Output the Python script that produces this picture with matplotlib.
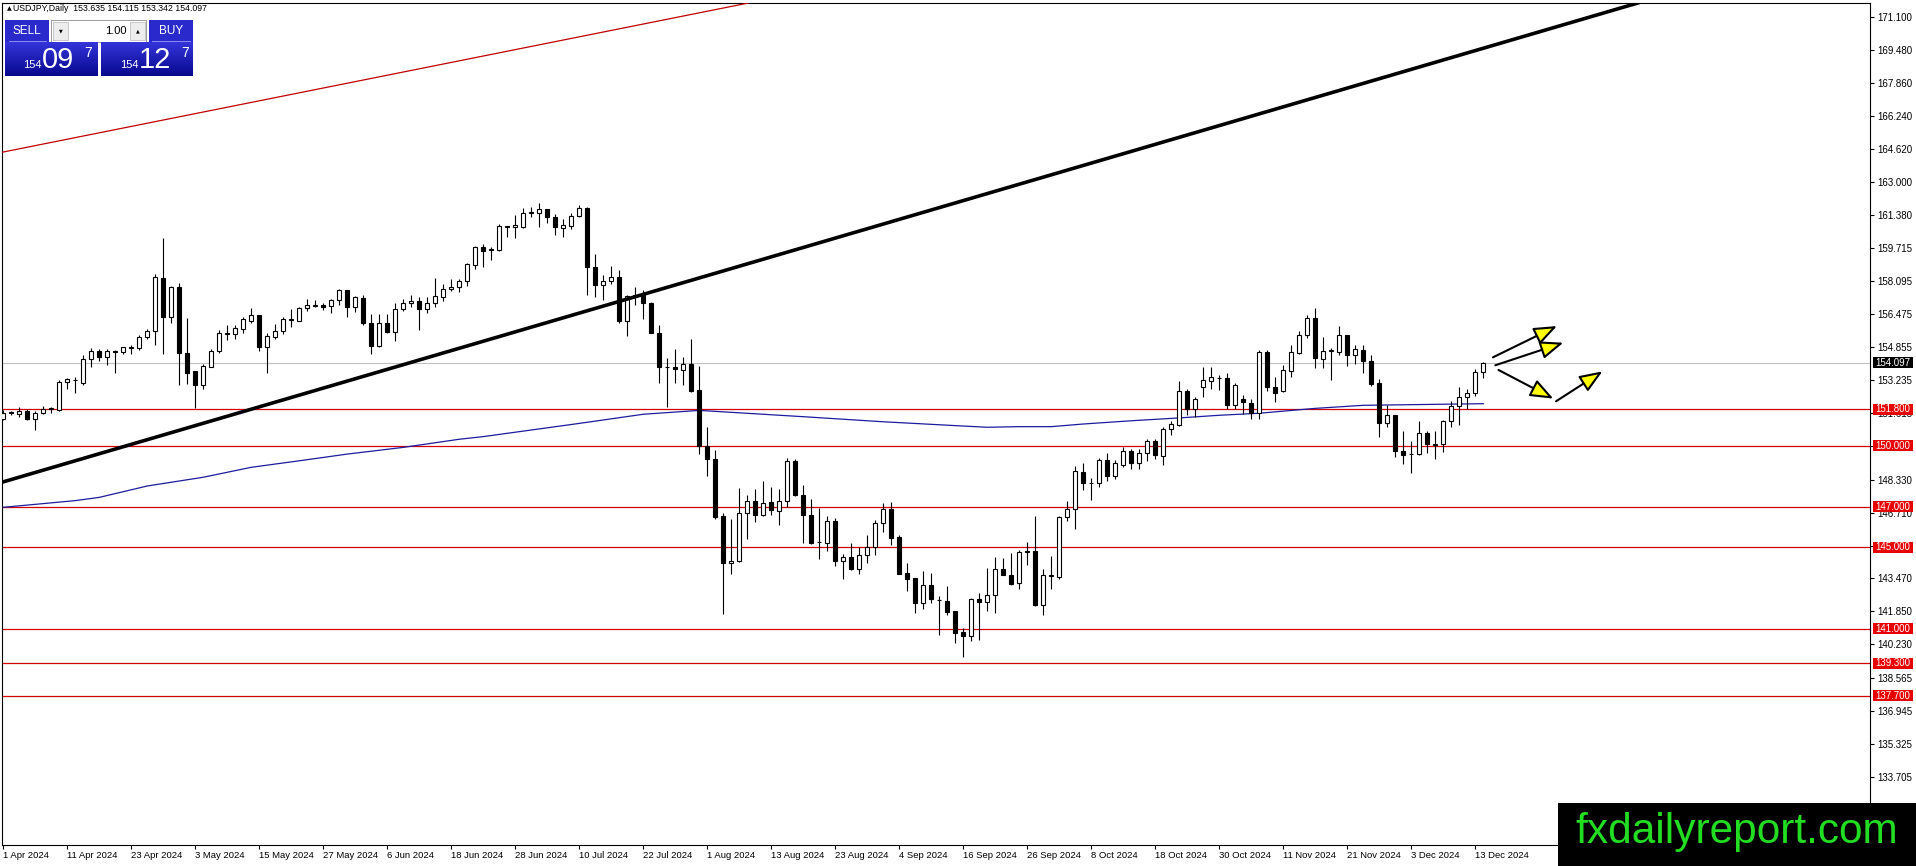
import matplotlib
matplotlib.use('Agg')
import matplotlib.pyplot as plt
import numpy as np
from matplotlib.patches import Rectangle, FancyArrowPatch
from matplotlib.colors import LinearSegmentedColormap
import matplotlib.transforms as mtransforms

plt.rcParams['font.family'] = ['Liberation Sans', 'DejaVu Sans']

W, H = 1916, 866

# ---------------- data ----------------
symbol = 'USDJPY,Daily'
header_ohlc = [153.635, 154.115, 153.342, 154.097]
bid_price = 154.097
ask_price = 154.127

opens = [151.30, 151.66, 151.58, 151.73, 151.33, 151.59, 151.80, 151.76, 153.14, 153.22,
         153.07, 154.25, 154.68, 154.35, 154.64, 154.61, 154.83, 154.81, 155.34, 155.63,
         158.24, 156.32, 157.80, 154.55, 153.66, 152.97, 153.89, 154.68, 155.50, 155.50,
         155.73, 156.15, 156.42, 154.84, 155.37, 155.63, 156.20, 156.16, 156.78, 156.90,
         156.94, 156.88, 157.17, 157.67, 156.81, 157.27, 156.02, 154.91, 156.06, 155.60,
         156.71, 157.01, 157.10, 156.71, 157.01, 157.30, 157.70, 157.83, 158.09, 158.91,
         159.76, 159.65, 159.63, 160.78, 160.75, 160.75, 161.46, 161.44, 161.67, 161.24,
         160.72, 160.81, 161.31, 161.70, 158.81, 157.89, 158.09, 158.32, 156.16, 157.34,
         157.44, 157.01, 155.56, 153.90, 153.89, 153.73, 154.02, 152.74, 149.99, 149.33,
         146.54, 144.21, 144.31, 146.67, 147.26, 146.61, 147.23, 146.81, 147.30, 149.27,
         147.59, 146.57, 145.26, 145.23, 146.28, 144.31, 144.51, 143.95, 144.61, 145.00,
         146.18, 146.90, 145.49, 143.72, 143.49, 142.28, 143.16, 142.43, 142.34, 141.85,
         140.83, 140.64, 142.44, 142.31, 142.64, 143.92, 143.62, 143.23, 144.78, 144.84,
         142.18, 143.60, 143.52, 146.48, 146.90, 148.71, 148.17, 148.18, 149.30, 148.51,
         149.04, 149.72, 149.17, 149.63, 150.22, 149.50, 150.81, 151.04, 152.71, 151.83,
         152.91, 153.20, 153.33, 153.33, 152.02, 152.28, 152.12, 151.60, 154.61, 152.91,
         152.71, 153.70, 154.58, 155.43, 156.29, 154.29, 154.67, 154.61, 155.43, 154.48,
         154.71, 154.19, 153.07, 151.10, 151.53, 149.73, 149.58, 149.60, 150.61, 150.05,
         150.07, 151.20, 151.96, 152.42, 152.61, 153.635]
highs = [151.76, 151.73, 151.92, 151.79, 151.73, 151.96, 151.92, 153.24, 153.33, 153.37,
         154.48, 154.81, 154.74, 154.74, 154.71, 154.88, 154.94, 155.43, 155.73, 158.45,
         160.21, 157.86, 157.99, 156.29, 153.70, 154.02, 154.78, 155.70, 155.93, 155.93,
         156.35, 156.78, 156.42, 155.53, 155.99, 156.32, 156.71, 156.84, 157.20, 157.17,
         157.04, 157.24, 157.73, 157.67, 157.37, 157.43, 156.48, 156.48, 156.48, 157.04,
         157.21, 157.40, 157.34, 157.30, 158.25, 157.96, 158.22, 158.22, 159.01, 159.83,
         159.93, 159.76, 160.91, 160.81, 161.34, 161.70, 161.73, 161.93, 161.67, 161.40,
         161.14, 161.47, 161.83, 161.73, 159.44, 158.39, 158.85, 158.65, 157.40, 157.83,
         157.67, 157.07, 155.96, 154.32, 154.75, 154.35, 155.24, 153.93, 150.94, 149.79,
         146.67, 146.38, 147.90, 147.56, 147.85, 148.25, 147.95, 147.85, 149.40, 149.33,
         148.05, 147.36, 146.94, 146.54, 146.44, 144.67, 145.20, 145.03, 145.59, 146.34,
         147.17, 147.23, 145.59, 144.25, 143.49, 143.82, 143.72, 142.60, 143.10, 141.85,
         141.03, 142.51, 142.74, 143.98, 144.51, 144.48, 144.71, 144.87, 145.26, 146.54,
         143.92, 144.57, 146.54, 147.26, 149.00, 149.13, 148.41, 149.40, 149.63, 149.30,
         149.95, 149.82, 149.82, 150.35, 150.35, 150.91, 151.20, 153.17, 152.81, 152.38,
         153.86, 153.86, 153.50, 153.60, 153.10, 152.51, 152.28, 154.71, 154.71, 153.37,
         153.96, 154.94, 155.63, 156.45, 156.78, 155.34, 154.81, 155.89, 155.43, 154.94,
         154.94, 154.48, 153.27, 152.02, 151.53, 150.74, 150.25, 151.23, 150.74, 150.71,
         151.27, 152.22, 152.87, 152.78, 153.79, 154.115]
lows = [151.27, 151.51, 151.43, 151.27, 150.78, 151.56, 151.63, 151.69, 152.78, 152.58,
        153.01, 153.89, 154.16, 153.96, 153.60, 154.52, 154.52, 154.71, 155.24, 154.97,
        154.52, 156.06, 153.01, 153.04, 151.86, 152.78, 153.89, 154.55, 155.20, 155.27,
        155.53, 156.06, 154.68, 153.60, 155.24, 155.50, 155.83, 156.12, 156.65, 156.81,
        156.68, 156.55, 156.91, 156.35, 156.58, 155.96, 154.52, 154.84, 155.53, 155.14,
        156.65, 156.84, 155.70, 156.55, 156.84, 157.14, 157.60, 157.57, 157.86, 158.68,
        158.78, 159.14, 159.60, 160.26, 160.22, 160.71, 161.24, 160.75, 160.95, 160.35,
        160.26, 160.68, 161.24, 157.44, 157.34, 157.17, 157.96, 156.06, 155.40, 156.94,
        156.25, 155.53, 153.10, 151.92, 153.10, 153.01, 152.65, 149.59, 148.51, 146.41,
        141.72, 143.69, 144.28, 145.42, 146.25, 146.54, 146.61, 146.08, 147.00, 147.53,
        145.20, 145.17, 144.44, 144.84, 144.08, 143.46, 143.89, 143.69, 144.25, 144.61,
        145.75, 145.10, 143.69, 142.87, 141.78, 141.98, 142.25, 140.70, 141.65, 140.31,
        139.59, 140.37, 140.44, 141.88, 141.75, 143.62, 143.13, 142.93, 144.11, 142.11,
        141.65, 142.97, 143.46, 146.31, 145.92, 147.82, 147.33, 147.99, 148.28, 148.38,
        148.97, 148.84, 148.87, 149.27, 149.33, 149.07, 150.51, 150.97, 151.53, 151.40,
        152.42, 152.78, 152.74, 151.82, 151.82, 151.56, 151.33, 151.30, 152.68, 152.15,
        152.65, 153.37, 154.52, 155.30, 153.83, 153.83, 153.24, 154.45, 153.93, 154.02,
        153.57, 152.94, 150.45, 150.94, 149.46, 149.10, 148.64, 149.53, 149.66, 149.36,
        149.69, 150.91, 151.01, 151.79, 152.45, 153.342]
closes = [151.63, 151.60, 151.71, 151.33, 151.59, 151.83, 151.86, 153.14, 153.27, 153.26,
          154.25, 154.68, 154.35, 154.65, 154.62, 154.84, 154.86, 155.37, 155.63, 158.29,
          156.32, 157.80, 154.55, 153.60, 153.01, 153.92, 154.68, 155.53, 155.55, 155.80,
          156.25, 156.42, 154.84, 155.40, 155.63, 156.25, 156.24, 156.78, 156.91, 156.92,
          156.84, 157.17, 157.67, 156.81, 157.30, 156.02, 154.91, 156.06, 155.60, 156.75,
          157.01, 157.10, 156.71, 157.01, 157.37, 157.70, 157.83, 158.12, 158.94, 159.76,
          159.60, 159.68, 160.81, 160.80, 160.88, 161.47, 161.48, 161.67, 161.24, 160.78,
          160.85, 161.31, 161.70, 158.81, 157.89, 158.09, 158.32, 156.16, 157.37, 157.44,
          157.01, 155.56, 153.86, 153.88, 153.76, 154.02, 152.71, 149.99, 149.33, 146.51,
          144.21, 144.31, 146.67, 147.26, 146.61, 147.20, 146.84, 147.30, 149.27, 147.59,
          146.57, 145.23, 145.24, 146.28, 144.34, 144.51, 143.95, 144.61, 145.00, 146.18,
          146.90, 145.46, 143.69, 143.46, 142.28, 143.16, 142.44, 142.41, 141.82, 140.80,
          140.64, 142.44, 142.31, 142.64, 143.92, 143.62, 143.20, 144.77, 144.80, 142.18,
          143.62, 143.62, 146.48, 146.90, 148.74, 148.18, 148.19, 149.30, 148.51, 149.13,
          149.72, 149.17, 149.63, 150.22, 149.53, 150.81, 151.07, 152.71, 151.83, 152.28,
          153.24, 153.37, 153.34, 152.02, 152.97, 152.15, 151.63, 154.61, 152.91, 152.60,
          153.73, 154.61, 155.43, 156.29, 154.32, 154.65, 154.70, 155.43, 154.48, 154.74,
          154.19, 153.04, 151.10, 151.53, 149.73, 149.56, 149.60, 150.61, 150.08, 150.08,
          151.20, 151.96, 152.42, 152.61, 153.63, 154.097]

date_labels = ['1 Apr 2024', '11 Apr 2024', '23 Apr 2024', '3 May 2024', '15 May 2024',
               '27 May 2024', '6 Jun 2024', '18 Jun 2024', '28 Jun 2024', '10 Jul 2024',
               '22 Jul 2024', '1 Aug 2024', '13 Aug 2024', '23 Aug 2024', '4 Sep 2024',
               '16 Sep 2024', '26 Sep 2024', '8 Oct 2024', '18 Oct 2024', '30 Oct 2024',
               '11 Nov 2024', '21 Nov 2024', '3 Dec 2024', '13 Dec 2024']
label_step = 8

# moving average (read at sample bars)
ma_idx = [0, 9, 12, 18, 25, 31, 37, 43, 50, 57, 60, 72, 80, 87, 100, 110, 120, 123,
          127, 131, 135, 141, 147, 152, 157, 164, 170, 185]
ma_val = [146.97, 147.30, 147.46, 148.02, 148.45, 148.94, 149.26, 149.59, 149.92, 150.32,
          150.45, 151.10, 151.55, 151.74, 151.43, 151.18, 150.97, 150.91, 150.94, 150.94,
          151.07, 151.23, 151.37, 151.50, 151.60, 151.84, 151.99, 152.07]

levels = [151.8, 150.0, 147.0, 145.0, 141.0, 139.3, 137.7]

ytick_vals = [171.100, 169.480, 167.860, 166.240, 164.620, 163.000, 161.380, 159.715,
              158.095, 156.475, 154.855, 153.235, 151.615, 149.970, 148.330, 146.710,
              145.090, 143.470, 141.850, 140.230, 138.565, 136.945, 135.325, 133.705]

black_trend = [(49.56, 153.94), (204.4, 171.80)]
red_trend = [(0.05, 164.46), (92.9, 171.77)]

arrow_starts = [(186.2, 154.35), (186.5, 153.96), (186.9, 153.73), (194.1, 152.19)]
arrow_ends = [(194.2, 155.89), (195.0, 155.07), (193.75, 152.32), (199.9, 153.66)]

watermark = 'fxdailyreport.com'

# ---------------- figure ----------------
fig = plt.figure(figsize=(W / 100, H / 100), dpi=100)
fig.patch.set_facecolor('white')
ax = fig.add_axes([2 / W, (H - 845) / H, 1868 / W, 842 / H])
YMIN, YMAX = 130.352, 171.789
ax.set_xlim(-0.1625, 233.34)
ax.set_ylim(YMIN, YMAX)
ax.set_facecolor('white')

o = np.array(opens); h = np.array(highs); l = np.array(lows); c = np.array(closes)
x = np.arange(len(o))

# levels & bid line
for lv in levels:
    ax.axhline(lv, color='#D40000', lw=0.9, zorder=1)
ax.axhline(bid_price, color='#C0C0C0', lw=0.8, zorder=1)

# moving average
ax.plot(ma_idx, ma_val, color='#1C1C9E', lw=0.9, zorder=2)

# candles
ax.vlines(x, l, h, color='black', lw=0.8, zorder=3)
bull = c >= o
ax.bar(x[bull], (c - o)[bull], bottom=o[bull], width=0.55, facecolor='white',
       edgecolor='black', linewidth=0.8, zorder=4)
ax.bar(x[~bull], (o - c)[~bull], bottom=c[~bull], width=0.55, facecolor='black',
       edgecolor='black', linewidth=0.8, zorder=4)

# trend lines
ax.axline(black_trend[0], black_trend[1], color='black', lw=2.6, zorder=5)
ax.axline(red_trend[0], red_trend[1], color='#C00000', lw=0.9, zorder=5)

# arrows
for s, e in zip(arrow_starts, arrow_ends):
    ax.add_patch(FancyArrowPatch(s, e, arrowstyle='-|>,head_length=1.4,head_width=0.55',
                                 mutation_scale=10, fc='#FFFF00', ec='black', lw=1.5,
                                 shrinkA=0, shrinkB=0, clip_on=False, zorder=6))

# axes styling
for sp in ax.spines.values():
    sp.set_color('black')
    sp.set_linewidth(0.8)
ax.yaxis.tick_right()
ax.set_yticks(ytick_vals)
ax.set_yticklabels([f'{v:.3f}' for v in ytick_vals])
ax.tick_params(axis='y', direction='out', length=3, width=0.8, pad=2, labelsize=7,
               colors='black')
ax.set_xticks(np.arange(0, len(date_labels) * label_step, label_step))
ax.set_xticklabels(date_labels, ha='left')
ax.tick_params(axis='x', direction='out', length=3, width=0.8, pad=1.5, labelsize=6.8,
               colors='black')

# price labels on the right axis
ppu = 842 / (YMAX - YMIN)
box_h = 11 / ppu
trans = mtransforms.blended_transform_factory(ax.transAxes, ax.transData)
x0 = (1872.5 - 2) / 1868
bw = 40 / 1868
for lv in levels:
    ax.add_patch(Rectangle((x0, lv - box_h / 2), bw, box_h, transform=trans,
                           fc='#E60000', ec='none', clip_on=False, zorder=20))
    ax.text(x0 + bw / 2, lv, f'{lv:.3f}', transform=trans, ha='center', va='center',
            fontsize=7, color='white', clip_on=False, zorder=21)
ax.add_patch(Rectangle((x0, bid_price - box_h / 2), bw, box_h, transform=trans,
                       fc='black', ec='none', clip_on=False, zorder=20))
ax.text(x0 + bw / 2, bid_price, f'{bid_price:.3f}', transform=trans, ha='center',
        va='center', fontsize=7, color='white', clip_on=False, zorder=21)

# ---------------- overlay (panel, header, watermark) ----------------
ov = fig.add_axes([0, 0, 1, 1], zorder=5)
ov.patch.set_alpha(0)

ov.text(7, 8.5, '▲', fontsize=4.5, va='center', ha='left', color='black',
        family=['DejaVu Sans'])
ov.text(13, 8.5, f'{symbol}  ' + ' '.join(f'{v:.3f}' for v in header_ohlc),
        fontsize=6.3, va='center', ha='left', color='black')

blue_btn = '#2A2ACC'
ov.add_patch(Rectangle((5, 20), 44, 21.5, fc=blue_btn, ec='none'))
ov.add_patch(Rectangle((149, 20), 44, 21.5, fc=blue_btn, ec='none'))
ov.plot([9, 46], [40.5, 40.5], color='#8C8CF0', lw=0.7)
ov.plot([152, 190], [40.5, 40.5], color='#8C8CF0', lw=0.7)
ov.text(27, 31, 'SELL', color='white', fontsize=8.5, ha='center', va='center')
ov.text(171, 31, 'BUY', color='white', fontsize=8.5, ha='center', va='center')
# spinner
ov.add_patch(Rectangle((51, 20), 95.5, 21.5, fc='white', ec='#9A9A9A', lw=0.7))
ov.add_patch(Rectangle((53, 22), 15, 17.5, fc='#EDEDED', ec='#B5B5B5', lw=0.5))
ov.add_patch(Rectangle((130, 22), 15, 17.5, fc='#EDEDED', ec='#B5B5B5', lw=0.5))
ov.text(60.5, 31, '▼', fontsize=3.5, ha='center', va='center', family=['DejaVu Sans'])
ov.text(137.5, 31, '▲', fontsize=3.5, ha='center', va='center', family=['DejaVu Sans'])
ov.text(127, 31, '1.00', fontsize=8, ha='right', va='center', color='black')

# price boxes with gradient
cmap = LinearSegmentedColormap.from_list('pb', ['#3434DA', '#08088F'])
grad = np.linspace(0, 1, 64).reshape(-1, 1)
ov.imshow(grad, extent=(5, 98, 76, 42.5), cmap=cmap, aspect='auto', zorder=1)
ov.imshow(grad, extent=(101, 193, 76, 42.5), cmap=cmap, aspect='auto', zorder=1)
bid_s = f'{bid_price:.3f}'
ask_s = f'{ask_price:.3f}'
ov.text(23, 68.5, bid_s[:3], color='white', fontsize=8, ha='left', va='baseline', zorder=3)
ov.text(42, 68.5, bid_s[4:6], color='white', fontsize=21, ha='left', va='baseline', zorder=3)
ov.text(84.5, 57, bid_s[6], color='white', fontsize=10, ha='left', va='baseline', zorder=3)
ov.text(120, 68.5, ask_s[:3], color='white', fontsize=8, ha='left', va='baseline', zorder=3)
ov.text(139, 68.5, ask_s[4:6], color='white', fontsize=21, ha='left', va='baseline', zorder=3)
ov.text(181.5, 57, ask_s[6], color='white', fontsize=10, ha='left', va='baseline', zorder=3)

# watermark
ov.add_patch(Rectangle((1558, 803), 358, 63, fc='black', ec='none', zorder=4))
ov.text(1737, 843, watermark, color='#22DD22', fontsize=30.5, ha='center',
        va='baseline', zorder=5, family=['Liberation Sans'])

ov.set_xlim(0, W)
ov.set_ylim(H, 0)
ov.axis('off')

fig.savefig('out.png', dpi=100, facecolor='white')
